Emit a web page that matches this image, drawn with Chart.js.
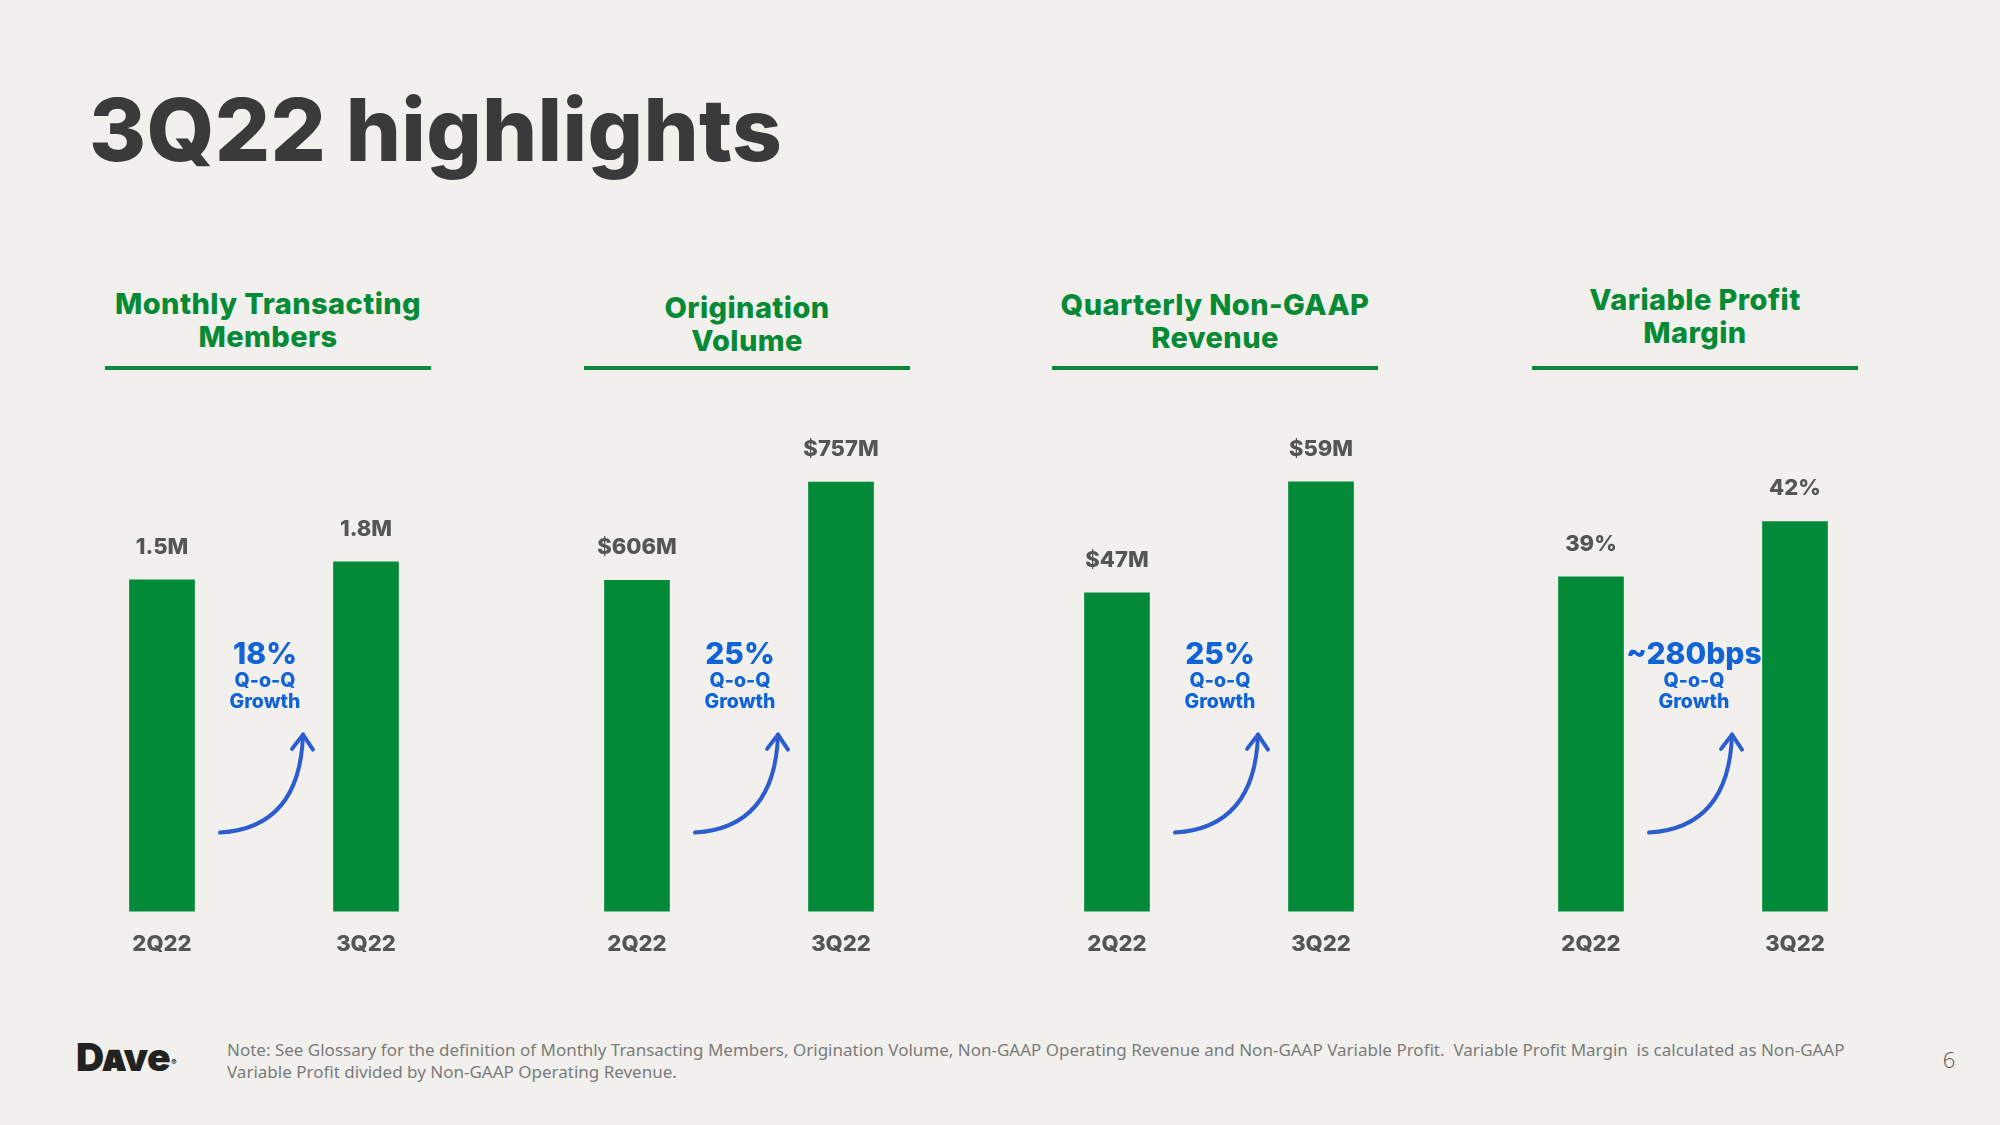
<!DOCTYPE html>
<html>
<head>
<meta charset="utf-8">
<script src="https://cdn.jsdelivr.net/npm/chart.js@4.4.0/dist/chart.umd.min.js"></script>
<style>
  html, body { margin: 0; padding: 0; background: #f1f0ec; }
  #page { position: relative; width: 2000px; height: 1125px; background: #f1f0ec; overflow: hidden; font-family: Inter, "Open Sans", sans-serif; }
  .title { position: absolute; left: 89px; top: 86px; font-size: 87px; line-height: 87px; font-weight: 800; color: #3a3a3a; white-space: nowrap; letter-spacing: 0.3px; }
  .hdr { position: absolute; width: 326px; text-align: center; color: #078a36; font-weight: 800; font-size: 29px; line-height: 33px; white-space: nowrap; letter-spacing: 0.4px; }
  .rule { position: absolute; width: 326px; height: 4px; top: 366px; background: #078a36; }
  .wrap { position: absolute; top: 400px; width: 408px; height: 578px; }
  .note { position: absolute; left: 227px; top: 1039px; font-family: "Noto Sans", "Open Sans", sans-serif; font-size: 17px; line-height: 22px; color: #7b7b7b; white-space: nowrap; }
  .logo { position: absolute; left: 76px; top: 1037px; font-family: Inter, sans-serif; font-weight: 900; font-size: 39px; line-height: 39px; color: #222; font-variant: all-small-caps; letter-spacing: -0.5px; }
  .logo sup { font-size: 8px; vertical-align: top; position: relative; top: 6px; margin-left: 1px; }
  .pnum { position: absolute; left: 1936px; top: 1046px; width: 26px; text-align: center; font-family: "Open Sans", sans-serif; font-weight: 300; font-size: 22px; line-height: 26px; color: #555; }
</style>
</head>
<body>
<div id="page">
  <div class="title">3Q22 highlights</div>
  <div id="headers"></div>
  <div class="wrap" style="left:60px"><canvas id="c0" width="408" height="578"></canvas></div>
  <div class="wrap" style="left:535px"><canvas id="c1" width="408" height="578"></canvas></div>
  <div class="wrap" style="left:1015px"><canvas id="c2" width="408" height="578"></canvas></div>
  <div class="wrap" style="left:1489px"><canvas id="c3" width="408" height="578"></canvas></div>
  <div class="logo">Dave<sup>®</sup></div>
  <div class="note">Note: See Glossary for the definition of Monthly Transacting Members, Origination Volume, Non-GAAP Operating Revenue and Non-GAAP Variable Profit.&nbsp; Variable Profit Margin&nbsp; is calculated as Non-GAAP<br>Variable Profit divided by Non-GAAP Operating Revenue.</div>
  <div class="pnum">6</div>
</div>
<script>
// ---- Data ----
const categories = ['2Q22', '3Q22'];
const mtmValues = [1.5, 1.8];          // Monthly Transacting Members (M)
const originationValues = [606, 757];  // Origination Volume ($M)
const revenueValues = [47, 59];        // Quarterly Non-GAAP Revenue ($M)
const marginValues = [39, 42];         // Variable Profit Margin (%)
const panelTitles = [
  ['Monthly Transacting', 'Members'],
  ['Origination', 'Volume'],
  ['Quarterly Non-GAAP', 'Revenue'],
  ['Variable Profit', 'Margin']
];
const growthLabels = ['18%', '25%', '25%', '~280bps'];
const growthCaption = ['Q-o-Q', 'Growth'];

// ---- Panels ----
const panels = [
  { values: mtmValues, fmt: v => v.toFixed(1) + 'M', min: -4.033, max: 4.167 },
  { values: originationValues, fmt: v => '$' + v + 'M', min: 97.2, max: 852.2 },
  { values: revenueValues, fmt: v => '$' + v + 'M', min: 12.51, max: 65.7 },
  { values: marginValues, fmt: v => v + '%', min: 20.82, max: 47.51 }
];
const ruleLefts = [105, 584, 1052, 1532];
const hdrTops = [287, 291, 288, 283];

const GREEN = '#028a39';
const BLUE_TEXT = '#1263d6';
const BLUE_ARROW = '#2d5cce';
const LABEL_GREY = '#555555';

const headers = document.getElementById('headers');
panelTitles.forEach((lines, i) => {
  const h = document.createElement('div');
  h.className = 'hdr';
  h.style.left = ruleLefts[i] + 'px';
  h.style.top = hdrTops[i] + 'px';
  h.innerHTML = lines.join('<br>');
  headers.appendChild(h);
  const r = document.createElement('div');
  r.className = 'rule';
  r.style.left = ruleLefts[i] + 'px';
  headers.appendChild(r);
});

const annotate = {
  id: 'annotate',
  afterDatasetsDraw(chart, args, opts) {
    const ctx = chart.ctx;
    const meta = chart.getDatasetMeta(0);
    const ds = chart.data.datasets[0];
    ctx.save();
    // value labels
    ctx.fillStyle = LABEL_GREY;
    ctx.font = '800 22px Inter';
    ctx.textAlign = 'center';
    ctx.textBaseline = 'alphabetic';
    meta.data.forEach((bar, i) => {
      ctx.fillText(opts.fmt(ds.data[i]), bar.x, bar.y - 26);
    });
    // growth annotation
    const bottom = chart.chartArea.bottom;
    const mx = (meta.data[0].x + meta.data[1].x) / 2;
    ctx.fillStyle = BLUE_TEXT;
    ctx.font = '800 30px Inter';
    ctx.fillText(opts.growth, mx + 1, bottom - 247.5);
    ctx.font = '800 19.5px Inter';
    ctx.fillText(growthCaption[0], mx + 1, bottom - 225);
    ctx.fillText(growthCaption[1], mx + 1, bottom - 204);
    // arrow
    const sx = mx - 44, sy = bottom - 79;
    const cx = mx + 36, cy = bottom - 84;
    const tx = mx + 39, ty = bottom - 177;
    ctx.strokeStyle = BLUE_ARROW;
    ctx.lineWidth = 4;
    ctx.lineCap = 'round';
    ctx.lineJoin = 'round';
    ctx.beginPath();
    ctx.moveTo(sx, sy);
    ctx.quadraticCurveTo(cx, cy, tx, ty);
    ctx.stroke();
    const ang = Math.atan2(ty - cy, tx - cx);
    const L = 18, spread = 0.62;
    ctx.beginPath();
    ctx.moveTo(tx - L * Math.cos(ang - spread), ty - L * Math.sin(ang - spread));
    ctx.lineTo(tx, ty);
    ctx.lineTo(tx - L * Math.cos(ang + spread), ty - L * Math.sin(ang + spread));
    ctx.stroke();
    ctx.restore();
  }
};

panels.forEach((p, i) => {
  new Chart(document.getElementById('c' + i), {
    type: 'bar',
    data: {
      labels: categories,
      datasets: [{
        data: p.values,
        backgroundColor: GREEN,
        borderWidth: 0,
        barThickness: 65,
        base: p.min
      }]
    },
    options: {
      responsive: false,
      animation: false,
      events: [],
      layout: { padding: { top: 20, left: 0, right: 0, bottom: 0 } },
      plugins: {
        legend: { display: false },
        tooltip: { enabled: false },
        annotate: { fmt: p.fmt, growth: growthLabels[i] }
      },
      scales: {
        x: {
          offset: true,
          grid: { display: false, drawTicks: false },
          border: { display: false },
          ticks: { color: LABEL_GREY, padding: 20, font: { family: 'Inter', size: 22, weight: '800', lineHeight: 1.2 } }
        },
        y: { display: false, min: p.min, max: p.max }
      }
    },
    plugins: [annotate]
  });
});
</script>
</body>
</html>
